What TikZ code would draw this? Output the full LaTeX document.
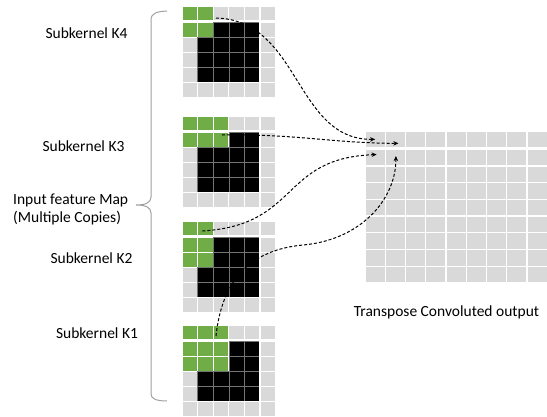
\documentclass[tikz,border=0pt]{standalone}
\usepackage{fontspec}
\setmainfont{Carlito}
\usetikzlibrary{arrows.meta}

\definecolor{cellgray}{HTML}{D9D9D9}
\definecolor{kgreen}{HTML}{70AD47}
\definecolor{bracegray}{HTML}{A0A0A0}

\begin{document}
\begin{tikzpicture}[
    x=1pt, y=-1pt,
    % Cell styles
    cell/.style={
        rectangle,
        inner sep=0pt,
        outer sep=0pt
    },
    smallcell/.style={
        cell,
        minimum width=15.6pt,
        minimum height=15pt
    },
    outcell/.style={
        cell,
        fill=cellgray,
        draw=white,
        line width=1.2pt,
        minimum width=20.25pt,
        minimum height=16.7pt
    },
    % Text style
    textlabel/.style={
        font=\fontsize{15.5}{18}\selectfont,
        align=left,
        inner sep=0pt
    },
    arrow/.style={
        -{Stealth[length=5pt, width=4.5pt]},
        dash pattern=on 3pt off 2pt,
        line width=1pt,
        black
    },
    brace/.style={
        draw=bracegray,
        line width=1pt
    }
]
\useasboundingbox (0,0) rectangle (547,416);

% === Input feature maps (one copy per sub-kernel) ===
\foreach \kname/\ktop/\gr/\gc in {k4/6/2/2, k3/116/2/3, k2/221/3/2, k1/325/3/3} {
    \foreach \rr in {0,...,5} {
        \foreach \cc in {0,...,5} {
            \pgfmathsetmacro{\xx}{189.8+15.6*\cc}
            \pgfmathsetmacro{\yy}{\ktop+7.5+15*\rr+1.5*(\rr>0)}
            \def\cellfill{cellgray}\def\celldraw{white}\def\cellline{1.2pt}
            \ifnum\rr>0 \ifnum\rr<5 \ifnum\cc>0 \ifnum\cc<5
                \def\cellfill{black}\def\celldraw{black!55}\def\cellline{0.5pt}%
            \fi\fi\fi\fi
            \ifnum\rr<\gr\relax \ifnum\cc<\gc\relax
                \def\cellfill{kgreen}\def\celldraw{white}\def\cellline{1.2pt}%
            \fi\fi
            \node[smallcell, fill=\cellfill, draw=\celldraw, line width=\cellline] (\kname-\rr-\cc) at (\xx,\yy) {};
        }
    }
}

% === Transposed convolution output ===
\foreach \rr in {0,...,8} {
    \foreach \cc in {0,...,8} {
        \pgfmathsetmacro{\xx}{375.125+20.25*\cc}
        \pgfmathsetmacro{\yy}{139.35+16.7*\rr+1.5*(\rr>0)}
        \node[outcell] (out-\rr-\cc) at (\xx,\yy) {};
    }
}

% === Labels ===
\node[textlabel] (subk4) at (86.5,33) {Subkernel K4};
\node[textlabel] (subk3) at (83.5,146) {Subkernel K3};
\node[textlabel, anchor=west] (inmap) at (13,209) {Input feature Map\\(Multiple Copies)};
\node[textlabel] (subk2) at (91.5,258) {Subkernel K2};
\node[textlabel] (subk1) at (97,333) {Subkernel K1};
\node[textlabel] (outlabel) at (446.5,312) {Transpose Convoluted output};

% === Brace over the copies ===
\draw[brace] (167,11) .. controls (157,11.5) and (151,13) .. (151,20) -- (151,197)
    .. controls (151,203) and (145,205) .. (136,205)
    .. controls (145,205) and (151,207) .. (151,213) -- (151,394)
    .. controls (151,399) and (157,401) .. (167,401);

% === Connectors: each sub-kernel to its output cell ===
\draw[arrow] ([shift={(-5,4.5)}]k4-0-2.center) .. controls (300,20) and (295,140) .. (out-0-0.center);
\draw[arrow] ([shift={(1,-5)}]k3-1-2.center) .. controls (300,134) and (330,143) .. ([shift={(3,4)}]out-0-1.center);
\draw[arrow] ([shift={(-3,2.5)}]k2-0-1.center) .. controls (300,225) and (280,158) .. ([shift={(1.5,-3)}]out-1-0.center);
\draw[arrow] ([shift={(-5,3.5)}]k1-0-2.center) .. controls (222,280) and (250,250) .. (303,245)
    .. controls (360,240) and (396,200) .. ([shift={(0.5,-1.5)}]out-1-1.center);

\end{tikzpicture}
\end{document}
